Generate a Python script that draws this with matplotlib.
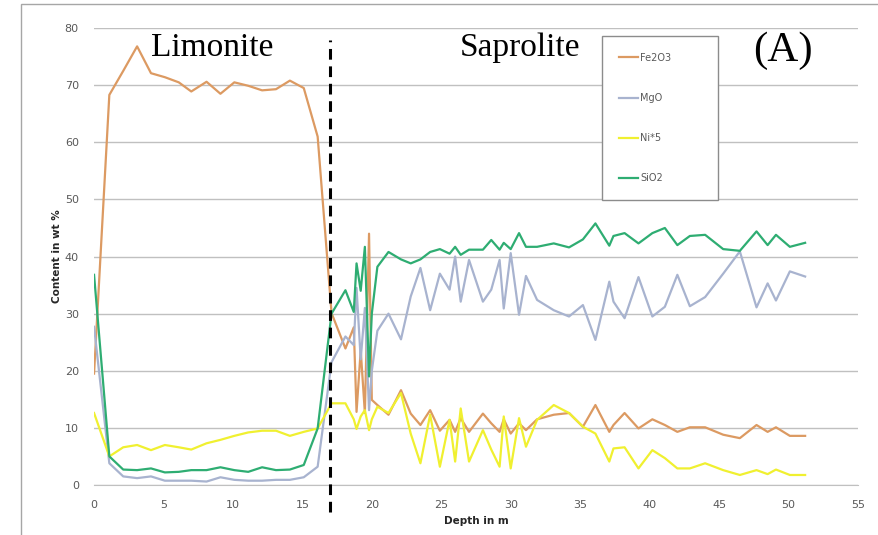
import matplotlib
matplotlib.use('Agg')
from matplotlib import pyplot as plt
from matplotlib.patches import Rectangle

depth = [0, 1.1, 2.1, 3.1, 4.1, 5.1, 6.1, 7.0, 8.1, 9.1, 10.1, 11.1, 12.1, 13.1, 14.1, 15.1, 16.1,
         17.1, 18.1, 18.7, 18.9, 19.2, 19.5, 19.8, 20.0, 20.4, 21.2, 22.1, 22.8, 23.5, 24.2, 24.9,
         25.6, 26.0, 26.4, 27.0, 28.0, 28.6, 29.2, 29.5, 30.0, 30.6, 31.1, 31.9, 33.1, 34.2, 35.2,
         36.1, 37.1, 37.4, 38.2, 39.2, 40.2, 41.1, 42.0, 42.9, 44.0, 45.3, 46.5, 47.7, 48.5, 49.1,
         50.1, 51.2]

fe2o3 = [19.5, 68.3, 72.5, 76.8, 72.1, 71.4, 70.5, 68.9, 70.6, 68.5, 70.5, 69.9, 69.1, 69.3, 70.8, 69.5, 61.0,
         30.1, 23.9, 27.6, 12.8, 23.6, 12.6, 44.0, 14.9, 14.0, 12.3, 16.6, 12.5, 10.5, 13.1, 9.5,
         11.4, 9.3, 11.7, 9.3, 12.5, 10.8, 9.3, 11.5, 9.0, 10.8, 9.6, 11.5, 12.3, 12.6, 10.2,
         14.0, 9.3, 10.5, 12.6, 9.9, 11.5, 10.5, 9.3, 10.1, 10.1, 8.8, 8.2, 10.5, 9.3, 10.1,
         8.6, 8.6]

mgo = [27.7, 3.8, 1.5, 1.2, 1.5, 0.75, 0.75, 0.75, 0.6, 1.35, 0.9, 0.75, 0.75, 0.9, 0.9, 1.35, 3.2,
       21.5, 26.0, 24.5, 34.5, 22.0, 31.0, 13.1, 20.0, 27.0, 30.0, 25.5, 33.0, 38.0, 30.6, 37.0,
       34.2, 40.0, 32.1, 39.4, 32.1, 34.2, 39.4, 30.9, 40.6, 29.8, 36.6, 32.4, 30.6, 29.5, 31.5,
       25.4, 35.6, 32.1, 29.2, 36.4, 29.5, 31.2, 36.8, 31.3, 32.9, 37.0, 40.9, 31.1, 35.3, 32.3,
       37.4, 36.5]

ni5 = [12.6, 5.0, 6.6, 7.0, 6.1, 7.0, 6.6, 6.2, 7.3, 7.9, 8.6, 9.2, 9.5, 9.5, 8.6, 9.3, 9.9,
       14.3, 14.3, 11.5, 9.8, 12.0, 13.1, 9.6, 11.5, 13.7, 12.6, 16.1, 9.0, 3.8, 12.3, 3.2,
       11.4, 4.1, 13.4, 4.1, 9.6, 6.2, 3.2, 12.0, 2.9, 11.7, 6.7, 11.4, 14.0, 12.6, 10.2,
       9.0, 4.1, 6.4, 6.6, 2.9, 6.1, 4.7, 2.9, 2.9, 3.8, 2.6, 1.75, 2.6, 1.9, 2.7,
       1.75, 1.75]

sio2 = [36.8, 5.0, 2.7, 2.6, 2.9, 2.2, 2.3, 2.6, 2.6, 3.1, 2.6, 2.3, 3.1, 2.6, 2.7, 3.5, 9.9,
        30.0, 34.1, 30.3, 38.8, 34.0, 41.7, 19.0, 30.0, 38.2, 40.8, 39.5, 38.8, 39.5, 40.8, 41.3,
        40.5, 41.7, 40.3, 41.2, 41.2, 42.9, 41.2, 42.4, 41.3, 44.1, 41.7, 41.7, 42.3, 41.6, 43.0,
        45.8, 41.9, 43.6, 44.1, 42.3, 44.1, 45.0, 42.0, 43.6, 43.8, 41.3, 41.0, 44.4, 42.0, 43.8,
        41.7, 42.4]

series = [('Fe2O3', fe2o3, '#DC9A62'),
          ('MgO', mgo, '#A8B3CF'),
          ('Ni*5', ni5, '#F0F030'),
          ('SiO2', sio2, '#2EAD72')]

boundary = 17.0

fig = plt.figure(figsize=(8.79, 5.35), dpi=100)
ax = fig.add_axes([0.107, 0.0935, 0.869, 0.854])

# outer frame of the chart
fig.patches.append(Rectangle((0.024, -0.01), 0.99, 1.0025, transform=fig.transFigure,
                             fill=False, edgecolor='#A6A6A6', lw=1.0))

for name, vals, col in series:
    ax.plot(depth, vals, color=col, lw=1.6, label=name)

ax.plot([boundary, boundary], [-4.7, 78], color='black', lw=2.2, ls=(0, (3.5, 2.2)),
        clip_on=False, zorder=5)

ax.set_xlim(0, 55)
ax.set_ylim(0, 80)
ax.set_xticks(range(0, 56, 5))
ax.set_yticks(range(0, 81, 10))
ax.grid(axis='y', color='#C0C0C0', lw=1.0)
ax.set_axisbelow(True)
for s in ['left', 'right', 'top']:
    ax.spines[s].set_visible(False)
ax.spines['bottom'].set_color('#C0C0C0')
ax.tick_params(length=0, labelsize=8, labelcolor='#595959', pad=11)

ax.set_xlabel('Depth in m', fontsize=7.5, fontweight='bold', color='#262626', labelpad=4)
ax.set_ylabel('Content in wt %', fontsize=7.5, fontweight='bold', color='#262626', labelpad=2)

ax.text(8.5, 76.5, 'Limonite', family='Liberation Serif', fontsize=24, ha='center', va='center')
ax.text(30.7, 76.5, 'Saprolite', family='Liberation Serif', fontsize=24, ha='center', va='center')
ax.text(49.6, 76.0, '(A)', family='Liberation Serif', fontsize=31, ha='center', va='center')

leg = ax.legend(loc='upper left', bbox_to_anchor=(0.665, 0.982, 0.152, 0.0), mode='expand',
                fontsize=7, labelspacing=3.1, borderpad=1.7, handlelength=2.0,
                handletextpad=0.2, fancybox=False, framealpha=1, edgecolor='#8C8C8C',
                borderaxespad=0)
for t in leg.get_texts():
    t.set_color('#595959')
leg.get_frame().set_linewidth(1.0)

plt.savefig('out.png', dpi=100)
